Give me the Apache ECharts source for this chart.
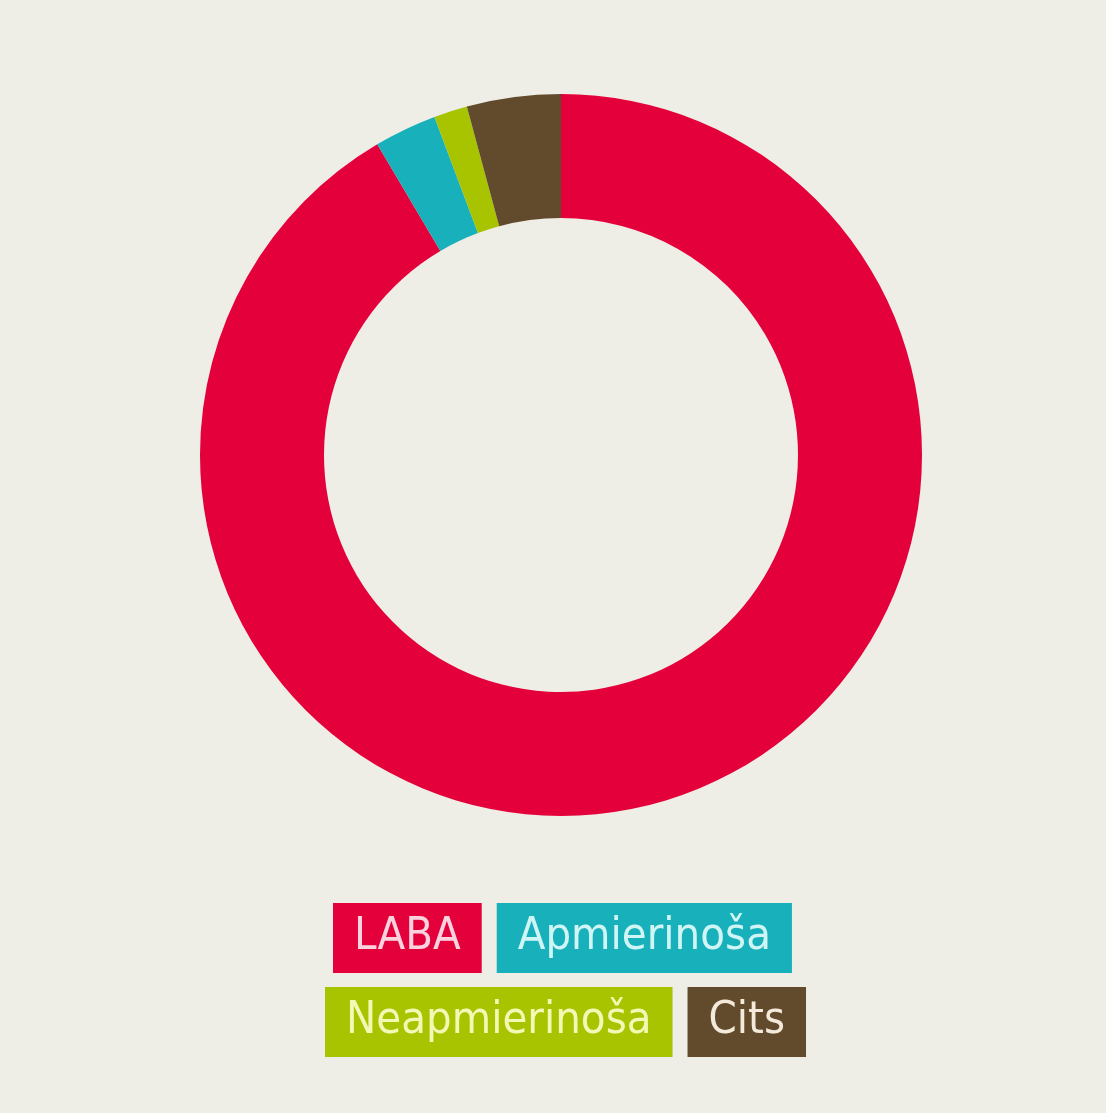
<!DOCTYPE html>
<html>
<head>
<meta charset="utf-8">
<script src="https://cdn.jsdelivr.net/npm/echarts@6/dist/echarts.min.js"></script>
<style>
  html, body { margin: 0; padding: 0; background: #eeede6; }
  #main { width: 1106px; height: 1113px; }
</style>
</head>
<body>
<div id="main"></div>
<script>
// share of answers, %
const names = ['LABA', 'Apmierinoša', 'Neapmierinoša', 'Cits'];
const values = [91.5, 2.8, 1.5, 4.2];
const colors = ['#e4003a', '#17b0bb', '#a8c300', '#624a2c'];
const textColors = ['#fbd3df', '#cff5f5', '#f3f8b4', '#f3eadb'];

const keys = ['k0', 'k1', 'k2', 'k3'];
const rich = {};
keys.forEach(function (k, i) {
  rich[k] = {
    backgroundColor: colors[i],
    color: textColors[i],
    fontSize: 45,
    lineHeight: 45,
    padding: [12, 21, 13, 21],
    fontFamily: '"Liberation Sans Narrow", "DejaVu Sans Condensed", "Noto Sans", sans-serif'
  };
});

function legendRow(items, left, top) {
  return {
    top: top,
    left: left,
    padding: 0,
    orient: 'horizontal',
    icon: 'rect',
    itemWidth: 0,
    itemHeight: 0,
    itemGap: 10,
    selectedMode: false,
    data: items,
    formatter: function (name) {
      return '{' + keys[names.indexOf(name)] + '|' + name + '}';
    },
    textStyle: { rich: rich }
  };
}

const chart = echarts.init(document.getElementById('main'));
chart.setOption({
  backgroundColor: '#eeede6',
  color: colors,
  animation: false,
  legend: [
    legendRow([names[0], names[1]], 328, 903),
    legendRow([names[2], names[3]], 320, 987)
  ],
  series: [{
    type: 'pie',
    center: [561, 455],
    radius: [237, 361],
    startAngle: 90,
    clockwise: true,
    label: { show: false },
    labelLine: { show: false },
    emphasis: { disabled: true },
    itemStyle: { borderWidth: 0 },
    data: names.map(function (n, i) { return { name: n, value: values[i] }; })
  }]
});
</script>
</body>
</html>
